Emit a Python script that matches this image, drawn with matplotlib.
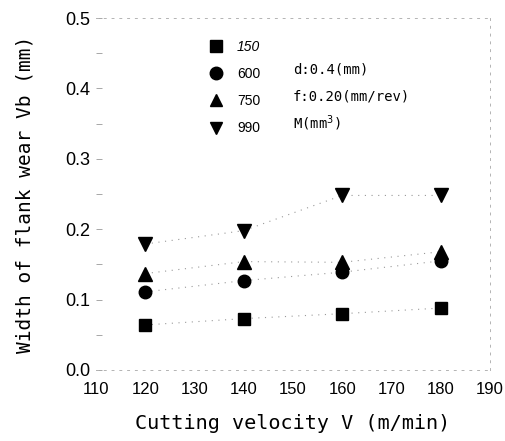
import matplotlib
matplotlib.use("Agg")
import matplotlib.pyplot as plt
from matplotlib.lines import Line2D

# cutting velocity (m/min)
velocity = [120, 140, 160, 180]

# flank wear width Vb (mm) for each M value
wear_150 = [0.064, 0.073, 0.080, 0.088]
wear_600 = [0.111, 0.127, 0.139, 0.155]
wear_750 = [0.137, 0.154, 0.153, 0.168]
wear_990 = [0.179, 0.198, 0.248, 0.248]

series_labels = ["150", "600", "750", "990"]
markers = ["s", "o", "^", "v"]
notes = ["d:0.4(mm)", "f:0.20(mm/rev)", "M(mm$^3$)"]

xticks = [110, 120, 130, 140, 150, 160, 170, 180, 190]
yticks = [0.0, 0.1, 0.2, 0.3, 0.4, 0.5]

fig = plt.figure(figsize=(5.05, 4.41), dpi=100)
ax = fig.add_axes([0.190, 0.161, 0.780, 0.798])

handles = []
for vals, m, lab in zip([wear_150, wear_600, wear_750, wear_990], markers, series_labels):
    ms = 10 if m in "^v" else 9
    ax.plot(velocity, vals, linestyle=(0, (1, 5)), color="0.6", lw=0.8, zorder=1)
    ax.plot(velocity, vals, linestyle="none", marker=m, markersize=ms,
            color="black", zorder=3)
    handles.append(Line2D([], [], linestyle="none", marker=m, markersize=9,
                          color="black", label=lab))

ax.set_xlim(110, 190)
ax.set_ylim(0.0, 0.5)
ax.set_xticks(xticks)
ax.set_yticks(yticks)
ax.set_yticks([0.05, 0.15, 0.25, 0.35, 0.45], minor=True)
ax.set_xticklabels([str(t) for t in xticks], family="Liberation Sans", fontsize=12)
ax.set_yticklabels(["%.1f" % t for t in yticks], family="Liberation Sans", fontsize=13)
ax.tick_params(axis="both", which="both", direction="in", length=4, width=0.6,
               color="0.6", pad=4)
ax.tick_params(axis="x", length=0, pad=9)

for side in ["top", "right", "bottom"]:
    ax.spines[side].set_linestyle((0, (2, 6)))
    ax.spines[side].set_color("0.7")
    ax.spines[side].set_linewidth(0.7)
ax.spines["left"].set_visible(False)

ax.set_xlabel("Cutting velocity V (m/min)", family="DejaVu Sans Mono",
              fontsize=14.5, labelpad=12)
ax.set_ylabel("Width of flank wear Vb (mm)", family="DejaVu Sans Mono",
              fontsize=14, labelpad=22)

leg = ax.legend(handles=handles, loc="upper left", bbox_to_anchor=(0.27, 0.958),
                frameon=False, handlelength=1.0, handletextpad=1.0,
                labelspacing=0.95, borderpad=0, prop={"family": "Liberation Sans", "size": 10})
leg.get_texts()[0].set_fontstyle("italic")

for i, note in enumerate(notes):
    ax.text(0.5, 0.855 - i * 0.077, note, transform=ax.transAxes,
            family="DejaVu Sans Mono", fontsize=10, va="center", ha="left")

fig.savefig("out.png", dpi=100)
